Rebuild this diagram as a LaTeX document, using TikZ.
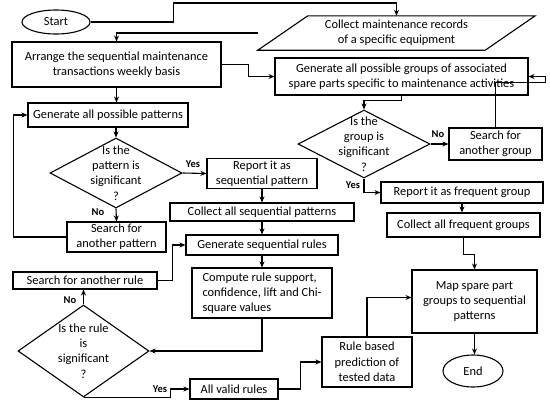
\documentclass[tikz,border=0pt]{standalone}
\usepackage{fontspec}
\setmainfont{Carlito}
\usetikzlibrary{shapes.geometric,arrows.meta}
\tikzset{
    box/.style={draw, line width=1.1pt, inner sep=2pt, align=center,
      font=\fontsize{12.4}{15.3}\selectfont},
    term/.style={box, ellipse},
    iotext/.style={inner sep=0pt, align=center, font=\fontsize{12.4}{15.3}\selectfont},
    decision/.style={draw, line width=1.1pt, diamond, inner sep=0pt},
    dectext/.style={align=center, inner sep=0pt, font=\fontsize{12.4}{15.3}\selectfont},
    yesno/.style={inner sep=0pt, font=\fontsize{10.5}{12}\selectfont\bfseries},
    flow/.style={line width=1.1pt, -{Stealth[length=6pt,width=5pt]}},
  }

\begin{document}
\begin{tikzpicture}[x=1pt,y=-1pt]
  \useasboundingbox[fill=white] (0,0) rectangle (550,402);
  %terminals and input
  \node[term, minimum width=68, minimum height=24, inner sep=0pt] (start) at (56,22) {Start};
  \node[iotext, minimum width=227, minimum height=34] (records) at (396.5,33) {Collect maintenance records\\of a specific equipment};
  \draw[line width=1.1pt] ([xshift=-25pt]records.south west) -- ([xshift=25pt]records.north west)
    -- ([xshift=25pt]records.north east) -- ([xshift=-25pt]records.south east) -- cycle;
  \node[term, minimum width=60, minimum height=32, inner sep=0pt] (fin) at (473,371) {End};
  %left branch: sequential patterns
  \node[box, minimum width=209, minimum height=45] (arrange) at (116.5,64.5) {Arrange the sequential maintenance\\transactions weekly basis};
  \node[box, minimum width=160, minimum height=24] (patgen) at (108,115) {Generate all possible patterns};
  \node[decision, minimum width=132, minimum height=70] (patdec) at (116,173) {};
  \node[dectext] (patq) at (patdec) {Is the\\pattern is\\significant\\?};
  \node[box, minimum width=110, minimum height=29] (reportpat) at (262,173.5) {Report it as\\sequential pattern};
  \node[box, minimum width=99, minimum height=30] (searchpat) at (116.5,237) {Search for\\another pattern};
  \node[box, minimum width=184, minimum height=18, inner sep=0pt] (collectpat) at (262,212) {Collect all sequential patterns};
  \node[box, minimum width=152, minimum height=20, inner sep=0pt] (genrules) at (262,245) {Generate sequential rules};
  \node[box, minimum width=140, minimum height=50, align=left] (compute) at (262,293) {Compute rule support,\\confidence, lift and Chi-\\square values};
  \node[box, minimum width=144, minimum height=17, inner sep=0pt] (searchrule) at (85,280.5) {Search for another rule};
  \node[decision, minimum width=131, minimum height=92] (ruledec) at (83.5,351) {};
  \node[dectext] (ruleq) at (ruledec) {Is the rule\\is\\significant\\?};
  \node[box, minimum width=88, minimum height=20, inner sep=0pt] (valid) at (234,389) {All valid rules};
  \node[box, minimum width=90, minimum height=50] (rulebased) at (367,362) {Rule based\\prediction of\\tested data};
  %right branch: spare part groups
  \node[box, minimum width=253, minimum height=37, inner sep=0pt] (groups) at (401.5,76.5) {Generate all possible groups of associated\\spare parts specific to maintenance activities};
  \node[decision, minimum width=132, minimum height=68] (grpdec) at (364,144) {};
  \node[dectext] (grpq) at (grpdec) {Is the\\group is\\significant\\?};
  \node[box, minimum width=93, minimum height=32] (searchgrp) at (495.5,144) {Search for\\another group};
  \node[box, minimum width=162, minimum height=21, inner sep=0pt] (reportgrp) at (462,192.5) {Report it as frequent group};
  \node[box, minimum width=153, minimum height=24, inner sep=0pt] (collectgrp) at (463.5,225) {Collect all frequent groups};
  \node[box, minimum width=125, minimum height=63] (map) at (474.5,301.5) {Map spare part\\groups to sequential\\patterns};
  %yes / no
  \node[yesno] (yes1) at (193,164) {Yes};
  \node[yesno] (no1) at (98,212) {No};
  \node[yesno] (no2) at (438,134) {No};
  \node[yesno] (yes2) at (353,185) {Yes};
  \node[yesno] (no3) at (70,300) {No};
  \node[yesno] (yes3) at (160,389) {Yes};
  %connectors
  \draw[flow] (start.east) -- ++(83,0) -- ++(0,-19) -| (records.north);
  \draw[flow] ([xshift=-25pt]records.west) -| (arrange.north);
  \draw[flow] (arrange.east) -- ++(27,0) |- (groups.west);
  \draw[flow] (arrange.south) -- (arrange.south |- patgen.north);
  \draw[flow] (patgen.south -| patdec.north) -- (patdec.north);
  \draw[flow] (patdec.east) -- (reportpat.west);
  \draw[flow] (patdec.south) -- (searchpat.north);
  \draw[flow] (searchpat.west) -- ++(-53,0) |- (patgen.west);
  \draw[flow] (reportpat.south) -- (collectpat.north);
  \draw[flow] (collectpat.south) -- (genrules.north);
  \draw[flow] (genrules.south) -- (compute.north);
  \draw[flow] (searchrule.east) -- ++(15,0) |- (genrules.west);
  \draw[flow] (compute.south) |- (ruledec.east);
  \draw[flow] (ruledec.north) -- (ruledec.north |- searchrule.south);
  \draw[flow] (ruledec.south) -- ++(87,0) |- (valid.west);
  \draw[flow] (valid.east) -- ++(22,0) |- (rulebased.west);
  \draw[flow] (rulebased.north) |- ([yshift=4pt]map.west);
  \draw[flow] (groups.south) -- ++(0,5) -| (grpdec.north);
  \draw[flow] (grpdec.east) -- (searchgrp.west);
  \draw[flow] (searchgrp.north) -- ++(0,-45) -- ++(50,0) |- (groups.east);
  \draw[flow] (grpdec.south) |- (reportgrp.west);
  \draw[flow] (reportgrp.south) -- (reportgrp.south |- collectgrp.north);
  \draw[flow] (collectgrp.south) -- ++(0,17) -| (map.north);
  \draw[flow] (map.south) -- (map.south |- fin.north);
\end{tikzpicture}
\end{document}
